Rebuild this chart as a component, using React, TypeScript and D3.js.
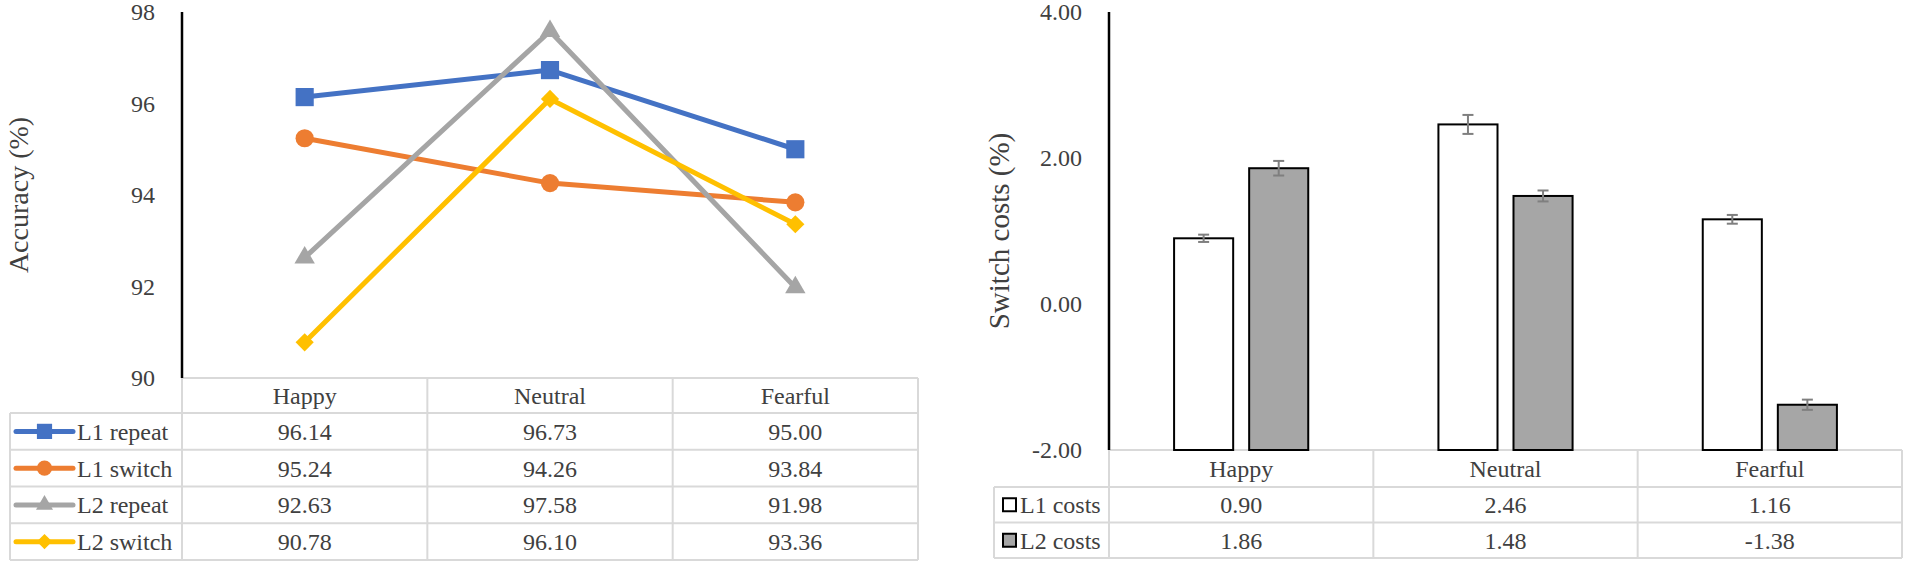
import * as d3 from 'd3';

// ---- data ----
const categories = ['Happy', 'Neutral', 'Fearful'];

const accNames = ['L1 repeat', 'L1 switch', 'L2 repeat', 'L2 switch'];
const l1Repeat = [96.14, 96.73, 95.0];
const l1Switch = [95.24, 94.26, 93.84];
const l2Repeat = [92.63, 97.58, 91.98];
const l2Switch = [90.78, 96.1, 93.36];
const accTicks = [90, 92, 94, 96, 98];

const costNames = ['L1 costs', 'L2 costs'];
const l1Costs = [0.9, 2.46, 1.16];
const l2Costs = [1.86, 1.48, -1.38];
const l1CostErr = [0.05, 0.13, 0.06];
const l2CostErr = [0.1, 0.075, 0.07];
const costTicks = [-2, 0, 2, 4];

const TEXT = '#404040';
const GRID = '#d9d9d9';
const seriesColors = ['#4472c4', '#ed7d31', '#a5a5a5', '#ffc000'];
const seriesSymbols = ['square', 'circle', 'triangle', 'diamond'];
const costFills = ['#ffffff', '#a6a6a6'];

// every text gets the serif face directly
const serif = { fontFamily: 'Liberation Serif' };

// Excel writes a plain hyphen for negatives, d3.format uses U+2212
const fmt2 = (v: number) => d3.format('.2f')(v).replace('\u2212', '-');

function markerPath(kind: string, scale = 1) {
  switch (kind) {
    case 'square':
      return d3.symbol(d3.symbolSquare, 330 * scale)()!;
    case 'circle':
      return d3.symbol(d3.symbolCircle, 260 * scale)()!;
    case 'triangle':
      return d3.symbol(d3.symbolTriangle, 180 * scale)()!;
    default:
      return d3.symbol(d3.symbolSquare, 165 * scale)()!;
  }
}

function Marker({ kind, x, y, color, scale = 1 }: { kind: string; x: number; y: number; color: string; scale?: number }) {
  const rot = kind === 'diamond' ? 45 : 0;
  return (
    <path
      d={markerPath(kind, scale)}
      transform={`translate(${x},${y}) rotate(${rot})`}
      fill={color}
    />
  );
}

function Label(props: any) {
  return <text fill={TEXT} fontSize={24} dy="0.35em" style={serif} {...props} />;
}

function AccuracyChart() {
  const series = [l1Repeat, l1Switch, l2Repeat, l2Switch];
  const x = d3.scaleBand<string>().domain(categories).range([182, 918]);
  const y = d3.scaleLinear().domain([90, 98]).range([378, 12]);
  const line = d3
    .line<number>()
    .x((_, i) => x(categories[i])! + x.bandwidth() / 2)
    .y((d) => y(d));

  const headerTop = y(90);
  const headerH = 35;
  const rowH = 36.75;
  const tableLeft = 10;
  const tableBottom = headerTop + headerH + rowH * accNames.length;

  return (
    <g>
      <Label
        transform={`translate(18,${(y(90) + y(98)) / 2}) rotate(-90)`}
        textAnchor="middle"
        fontSize={28}
      >
        Accuracy (%)
      </Label>
      {accTicks.map((t) => (
        <Label key={t} x={155} y={y(t)} textAnchor="end">
          {t}
        </Label>
      ))}

      {/* table grid */}
      <g stroke={GRID} strokeWidth={2} fill="none">
        <line x1={182} x2={918} y1={headerTop} y2={headerTop} />
        {accNames.map((_, i) => (
          <line
            key={i}
            x1={tableLeft}
            x2={918}
            y1={headerTop + headerH + rowH * i}
            y2={headerTop + headerH + rowH * i}
          />
        ))}
        <line x1={tableLeft} x2={918} y1={tableBottom} y2={tableBottom} />
        <line x1={tableLeft} x2={tableLeft} y1={headerTop + headerH} y2={tableBottom} />
        {categories.map((c) => (
          <line key={c} x1={x(c)! + x.bandwidth()} x2={x(c)! + x.bandwidth()} y1={headerTop} y2={tableBottom} />
        ))}
        <line x1={182} x2={182} y1={headerTop} y2={tableBottom} />
      </g>

      {categories.map((c) => (
        <Label key={c} x={x(c)! + x.bandwidth() / 2} y={headerTop + headerH / 2} textAnchor="middle">
          {c}
        </Label>
      ))}

      {accNames.map((name, si) => {
        const cy = headerTop + headerH + rowH * si + rowH / 2;
        return (
          <g key={name}>
            <line x1={16} x2={73} y1={cy} y2={cy} stroke={seriesColors[si]} strokeWidth={5} strokeLinecap="round" />
            <Marker kind={seriesSymbols[si]} x={44.5} y={cy} color={seriesColors[si]} scale={0.7} />
            <Label x={77} y={cy}>
              {name}
            </Label>
            {series[si].map((v, ci) => (
              <Label key={ci} x={x(categories[ci])! + x.bandwidth() / 2} y={cy} textAnchor="middle">
                {v.toFixed(2)}
              </Label>
            ))}
          </g>
        );
      })}

      <line x1={182} x2={182} y1={y(98)} y2={y(90)} stroke="#000" strokeWidth={2.5} />

      {series.map((vals, si) => (
        <g key={si}>
          <path d={line(vals)!} fill="none" stroke={seriesColors[si]} strokeWidth={5} strokeLinejoin="round" />
          {vals.map((v, ci) => (
            <Marker
              key={ci}
              kind={seriesSymbols[si]}
              x={x(categories[ci])! + x.bandwidth() / 2}
              y={y(v)}
              color={seriesColors[si]}
            />
          ))}
        </g>
      ))}
    </g>
  );
}

function CostsChart() {
  const values = [l1Costs, l2Costs];
  const errors = [l1CostErr, l2CostErr];
  const x = d3.scaleBand<string>().domain(categories).range([1109, 1902]);
  const inner = d3
    .scaleBand<string>()
    .domain(costNames)
    .range([0, x.bandwidth()])
    .paddingInner(0.213)
    .paddingOuter(0.867);
  const y = d3.scaleLinear().domain([-2, 4]).range([450, 12]);

  const headerTop = y(-2);
  const headerH = 37;
  const rowH = 35.5;
  const tableLeft = 994;
  const tableRight = 1902;
  const tableBottom = headerTop + headerH + rowH * costNames.length;

  return (
    <g>
      <Label
        transform={`translate(999,${(y(-2) + y(4)) / 2}) rotate(-90)`}
        textAnchor="middle"
        fontSize={29}
      >
        Switch costs (%)
      </Label>
      {costTicks.map((t) => (
        <Label key={t} x={1082} y={y(t)} textAnchor="end">
          {fmt2(t)}
        </Label>
      ))}

      <g stroke={GRID} strokeWidth={2} fill="none">
        <line x1={1109} x2={tableRight} y1={headerTop} y2={headerTop} />
        {costNames.map((_, i) => (
          <line
            key={i}
            x1={tableLeft}
            x2={tableRight}
            y1={headerTop + headerH + rowH * i}
            y2={headerTop + headerH + rowH * i}
          />
        ))}
        <line x1={tableLeft} x2={tableRight} y1={tableBottom} y2={tableBottom} />
        <line x1={tableLeft} x2={tableLeft} y1={headerTop + headerH} y2={tableBottom} />
        {categories.map((c) => (
          <line key={c} x1={x(c)! + x.bandwidth()} x2={x(c)! + x.bandwidth()} y1={headerTop} y2={tableBottom} />
        ))}
        <line x1={1109} x2={1109} y1={headerTop} y2={tableBottom} />
      </g>

      {categories.map((c) => (
        <Label key={c} x={x(c)! + x.bandwidth() / 2} y={headerTop + headerH / 2} textAnchor="middle">
          {c}
        </Label>
      ))}

      {costNames.map((name, si) => {
        const cy = headerTop + headerH + rowH * si + rowH / 2;
        return (
          <g key={name}>
            <rect x={1003} y={cy - 6.5} width={13} height={13} fill={costFills[si]} stroke="#000" strokeWidth={2} />
            <Label x={1020} y={cy}>
              {name}
            </Label>
            {values[si].map((v, ci) => (
              <Label key={ci} x={x(categories[ci])! + x.bandwidth() / 2} y={cy} textAnchor="middle">
                {fmt2(v)}
              </Label>
            ))}
          </g>
        );
      })}

      {values.map((vals, si) =>
        vals.map((v, ci) => {
          const bx = x(categories[ci])! + inner(costNames[si])!;
          const bw = inner.bandwidth();
          const cx = bx + bw / 2;
          const e = errors[si][ci];
          return (
            <g key={`${si}-${ci}`}>
              <rect
                x={bx}
                y={y(v)}
                width={bw}
                height={y(-2) - y(v)}
                fill={costFills[si]}
                stroke="#000"
                strokeWidth={2}
              />
              <g stroke="#7f7f7f" strokeWidth={2}>
                <line x1={cx} x2={cx} y1={y(v + e)} y2={y(v - e)} />
                <line x1={cx - 5.5} x2={cx + 5.5} y1={y(v + e)} y2={y(v + e)} />
                <line x1={cx - 5.5} x2={cx + 5.5} y1={y(v - e)} y2={y(v - e)} />
              </g>
            </g>
          );
        }),
      )}

      <line x1={1109} x2={1109} y1={y(4)} y2={y(-2)} stroke="#000" strokeWidth={2.5} />
    </g>
  );
}

export default function App() {
  return (
    <svg width={1907} height={564} style={{ position: 'absolute', left: 0, top: 0, background: '#fff' }}>
      <rect width={1907} height={564} fill="#fff" />
      <AccuracyChart />
      <CostsChart />
    </svg>
  );
}
